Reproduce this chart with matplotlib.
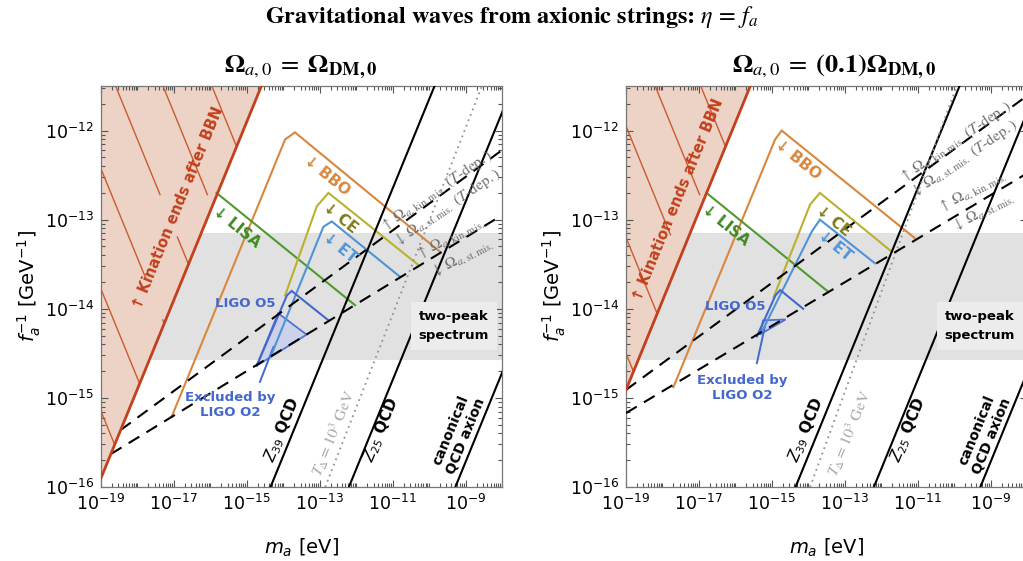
import numpy as np
import matplotlib
matplotlib.use("Agg")
import matplotlib.pyplot as plt
from matplotlib.ticker import FixedLocator, FuncFormatter, NullFormatter
from matplotlib.patches import Polygon

# ---------------- data (log10 values) ----------------
XLIM = (-19.0, -8.0)          # log10(m_a / eV)
YLIM = (-16.0, -11.5)         # log10(f_a^-1 / GeV^-1)
BAND = (-14.57, -13.15)       # "two-peak spectrum" band
X_LABELED = [-19, -17, -15, -13, -11, -9]
Y_LABELED = [-16, -15, -14, -13, -12]

# QCD-axion lines (same in both panels)
Z39_x = [-14.45, -9.75];  Z39_y = [-16.1, -11.4]
Z25_x = [-12.3, -7.6];    Z25_y = [-16.1, -11.4]
CAN_x = [-9.38, -7.9];    CAN_y = [-16.1, -14.62]

# ---- left panel: Omega_a0 = Omega_DM0 ----
L_kin_x = [-19.0, -14.6];   L_kin_y = [-15.9, -11.5]
L_hatch_c = [-27.46, -28.8, -30.1, -31.43, -32.78, -34.15]
L_TD_x = [-12.85, -8.55];   L_TD_y = [-16.0, -11.5]
L_dlow_x = [-18.73, -8.0];  L_dlow_y = [-15.63, -12.95]
L_dup_x = [-18.46, -8.0];   L_dup_y = [-15.36, -12.22]
L_bbo_x = [-17.06, -13.95, -13.68, -9.70];  L_bbo_y = [-15.21, -12.10, -12.02, -13.36]
L_lisa_x = [-15.83, -12.03];                L_lisa_y = [-12.70, -13.96]
L_ce_x = [-13.95, -13.08, -12.76, -10.29];  L_ce_y = [-13.85, -12.85, -12.70, -13.51]
L_et_x = [-14.35, -12.90, -12.67, -10.80];  L_et_y = [-14.54, -13.08, -13.02, -13.64]
L_o5_x = [-14.73, -13.90, -13.77, -12.76];  L_o5_y = [-14.64, -13.85, -13.80, -14.13]
L_o2_x = [-14.73, -14.14, -13.36];          L_o2_y = [-14.64, -14.05, -14.29]
L_ptr_x = [-14.64, -14.27];                 L_ptr_y = [-14.82, -14.43]

# ---- right panel: Omega_a0 = 0.1 Omega_DM0 ----
R_kin_x = [-19.0, -15.59];  R_kin_y = [-14.91, -11.5]
R_hatch_c = [-28.45, -29.7, -30.95, -32.2, -33.5]
R_TD_x = [-13.95, -9.93];   R_TD_y = [-16.0, -11.5]
R_dlow_x = [-19.0, -8.0];   R_dlow_y = [-15.17, -12.48]
R_dup_x = [-19.0, -8.0];    R_dup_y = [-14.91, -11.61]
R_bbo_x = [-17.70, -14.91, -14.73, -11.07]; R_bbo_y = [-14.88, -12.10, -12.00, -13.21]
R_lisa_x = [-16.79, -13.45];                R_lisa_y = [-12.70, -13.81]
R_ce_x = [-14.95, -13.95, -13.68, -11.71];  R_ce_y = [-13.87, -12.83, -12.70, -13.36]
R_et_x = [-15.30, -13.90, -13.68, -12.17];  R_et_y = [-14.28, -13.13, -13.00, -13.49]
R_o5_x = [-15.41, -14.90, -14.77, -14.14];  R_o5_y = [-14.31, -13.85, -13.79, -14.00]
R_o2_x = [-15.33, -15.24, -14.62];          R_o2_y = [-14.29, -14.13, -14.12]
R_ptr_x = [-15.41, -15.19];                 R_ptr_y = [-14.61, -14.20]

# ---------------- styling ----------------
C_KIN = "#c2401c"; C_KINFILL = "#edd2c6"; C_HATCH = "#cb5a32"
C_BBO = "#d9873c"; C_CE = "#b9b12f"; C_CE_T = "#7f7c18"
C_ET = "#4f93d6"; C_LISA = "#4f9a2e"; C_LISA_T = "#3f8a22"
C_LIGO = "#4467cc"; C_O2FILL = "#c9d1ec"
C_OM = "#6d6d6d"; C_TD = "#a8a8a8"

W, H = 1023, 561
fig = plt.figure(figsize=(W / 100, H / 100), dpi=100)


def P(v):
    return 10.0 ** np.asarray(v, dtype=float)


def minor_ticks(lo, hi):
    out = []
    for e in range(int(np.floor(lo)), int(np.ceil(hi)) + 1):
        for s in range(2, 10):
            v = np.log10(s) + e
            if lo < v < hi:
                out.append(10.0 ** v)
    return out


def make_axes(left_px):
    ax = fig.add_axes([left_px / W, (H - 487) / H, 401 / W, 401 / H])
    ax.set_xscale("log"); ax.set_yscale("log")
    ax.set_xlim(P(XLIM[0]), P(XLIM[1])); ax.set_ylim(P(YLIM[0]), P(YLIM[1]))
    ax.xaxis.set_major_locator(FixedLocator(P(X_LABELED)))
    ax.xaxis.set_minor_locator(FixedLocator(
        list(P([e for e in range(-19, -7) if e not in X_LABELED])) + minor_ticks(*XLIM)))
    ax.yaxis.set_major_locator(FixedLocator(P(Y_LABELED)))
    ax.yaxis.set_minor_locator(FixedLocator(minor_ticks(*YLIM)))

    def fmt(v, p):
        return r"$10^{%d}$" % int(round(np.log10(v)))

    ax.xaxis.set_major_formatter(FuncFormatter(fmt))
    ax.yaxis.set_major_formatter(FuncFormatter(fmt))
    ax.xaxis.set_minor_formatter(NullFormatter())
    ax.yaxis.set_minor_formatter(NullFormatter())
    ax.tick_params(which="both", direction="in", top=True, right=True, color="#555555",
                   labelsize=12.5, width=0.8)
    ax.tick_params(which="major", length=5, pad=5)
    ax.tick_params(which="minor", length=2.8)
    for s in ax.spines.values():
        s.set_color("#777777"); s.set_linewidth(0.9)
    ax.set_xlabel(r"$m_a$ [eV]", fontsize=14, labelpad=16)
    ax.set_ylabel(r"$f_a^{-1}$ [GeV$^{-1}$]", fontsize=14, labelpad=1)
    return ax


def panel(ax, d, lab):
    ax.axhspan(P(BAND[0]), P(BAND[1]), color="#e1e1e1", lw=0, zorder=0)
    # kination-excluded region
    kx, ky = d["kin"]
    poly = Polygon(np.c_[P([XLIM[0] - 1] + list(kx) + [XLIM[0] - 1]),
                         P([ky[0] - 1] + list(ky) + [YLIM[1] + 1])],
                   closed=True, facecolor=C_KINFILL, edgecolor="none", zorder=1)
    ax.add_patch(poly)
    for c in d["hatch"]:
        x0 = max(XLIM[0], c - YLIM[1])
        hl, = ax.plot(P([x0, x0 + 6]), P([c - x0, c - x0 - 6]), color=C_HATCH, lw=1.0,
                      dashes=(85, 32), zorder=2)
        hl.set_clip_path(poly)
    ax.plot(P(kx), P(ky), color=C_KIN, lw=2.0, zorder=6)

    # QCD lines
    for xs, ys in [(Z39_x, Z39_y), (Z25_x, Z25_y), (CAN_x, CAN_y)]:
        ax.plot(P(xs), P(ys), color="black", lw=1.5, zorder=5)
    ax.plot(P(d["TD"][0]), P(d["TD"][1]), color="#939393", lw=1.3, ls=(0, (1, 2.2)), zorder=5)

    # dashed relic-abundance lines
    for key in ("dlow", "dup"):
        ax.plot(P(d[key][0]), P(d[key][1]), color="black", lw=1.5, dashes=(6, 4), zorder=5)

    # LIGO O2 excluded region
    ax.add_patch(Polygon(np.c_[P(d["o2"][0]), P(d["o2"][1])], closed=True,
                         facecolor=C_O2FILL, edgecolor=C_LIGO, lw=1.3, alpha=0.9, zorder=3))
    ax.plot(P(d["ptr"][0]), P(d["ptr"][1]), color=C_LIGO, lw=1.4, zorder=4)

    # detector curves
    for key, col in [("bbo", C_BBO), ("lisa", C_LISA), ("ce", C_CE), ("et", C_ET), ("o5", C_LIGO)]:
        ax.plot(P(d[key][0]), P(d[key][1]), color=col, lw=1.5, zorder=4, solid_joinstyle="miter")

    # labels
    bold = dict(fontweight="bold", ha="center", va="center", zorder=8)
    def T(key, s, col, rot, fs=9.5, **kw):
        x, y = lab[key]
        ax.text(P(x), P(y), s, color=col, rotation=rot, fontsize=fs,
                rotation_mode="anchor", **bold, **kw)

    T("kin", "↑ Kination ends after BBN", C_KIN, 67.7, 10.5)
    T("bbo", "↓ BBO", C_BBO, -39, 11)
    T("lisa", "↓ LISA", C_LISA_T, -39, 11)
    T("ce", "↓ CE", C_CE_T, -39, 11)
    T("et", "↓ ET", C_ET, -39, 11)
    T("o5", "LIGO O5", C_LIGO, 0, 9.5)
    T("o2", "Excluded by\nLIGO O2", C_LIGO, 0, 9.5)
    T("z39", r"$\mathit{Z}_{39}$ QCD", "black", 67.7, 11)
    T("z25", r"$\mathit{Z}_{25}$ QCD", "black", 67.7, 11)
    T("can", "canonical\nQCD axion", "black", 67.7, 10)
    x, y = lab["two"]
    ax.text(P(x), P(y), "two-peak\nspectrum", fontsize=9.5, fontweight="bold", ha="center",
            va="center", linespacing=1.6, zorder=8,
            bbox=dict(boxstyle="square,pad=0.6", facecolor="#ececec", edgecolor="none"))
    serif = dict(ha="center", va="center", rotation_mode="anchor", math_fontfamily="stix",
                 fontfamily="STIXGeneral", zorder=8)
    x, y = lab["td"]
    ax.text(P(x), P(y), r"$T_\Delta = 10^3\ \mathrm{GeV}$", color=C_TD, rotation=67.7,
            fontsize=11.5, **serif)
    for key, s, rot in [("om1", r"$\uparrow\ \Omega_{a,\mathrm{kin.mis.}}\ (T\mathrm{\text{-}dep.})$", 34),
                        ("om2", r"$\downarrow\ \Omega_{a,\mathrm{st.mis.}}\ (T\mathrm{\text{-}dep.})$", 34),
                        ("om3", r"$\uparrow\ \Omega_{a,\mathrm{kin.mis.}}$", 27),
                        ("om4", r"$\downarrow\ \Omega_{a,\mathrm{st.mis.}}$", 27)]:
        x, y = lab[key]
        ax.text(P(x), P(y), s, color=C_OM, rotation=rot, fontsize=11, **serif)


L = dict(kin=(L_kin_x, L_kin_y), hatch=L_hatch_c, TD=(L_TD_x, L_TD_y),
         dlow=(L_dlow_x, L_dlow_y), dup=(L_dup_x, L_dup_y), bbo=(L_bbo_x, L_bbo_y),
         lisa=(L_lisa_x, L_lisa_y), ce=(L_ce_x, L_ce_y), et=(L_et_x, L_et_y),
         o5=(L_o5_x, L_o5_y), o2=(L_o2_x, L_o2_y), ptr=(L_ptr_x, L_ptr_y))
R = dict(kin=(R_kin_x, R_kin_y), hatch=R_hatch_c, TD=(R_TD_x, R_TD_y),
         dlow=(R_dlow_x, R_dlow_y), dup=(R_dup_x, R_dup_y), bbo=(R_bbo_x, R_bbo_y),
         lisa=(R_lisa_x, R_lisa_y), ce=(R_ce_x, R_ce_y), et=(R_et_x, R_et_y),
         o5=(R_o5_x, R_o5_y), o2=(R_o2_x, R_o2_y), ptr=(R_ptr_x, R_ptr_y))

L_lab = dict(kin=(-16.89, -12.87), bbo=(-12.80, -12.51), lisa=(-15.28, -13.08),
             ce=(-12.44, -12.98), et=(-12.44, -13.31), o5=(-15.05, -13.94),
             o2=(-15.46, -15.08), z39=(-14.04, -15.36), td=(-12.63, -15.40),
             z25=(-11.30, -15.36), can=(-9.20, -15.40), om1=(-9.78, -12.67),
             om2=(-9.51, -12.86), om3=(-9.43, -13.21), om4=(-9.10, -13.43),
             two=(-9.32, -14.19))
R_lab = dict(kin=(-17.57, -12.78), bbo=(-14.28, -12.33), lisa=(-16.28, -13.06),
             ce=(-13.32, -13.01), et=(-13.27, -13.29), o5=(-16.01, -13.97),
             o2=(-15.82, -14.89), z39=(-14.06, -15.36), td=(-12.85, -15.39),
             z25=(-11.26, -15.36), can=(-9.18, -15.40), om1=(-9.95, -12.12),
             om2=(-9.72, -12.31), om3=(-9.51, -12.69), om4=(-9.20, -12.92),
             two=(-9.29, -14.19))

ax1 = make_axes(101)
panel(ax1, L, L_lab)
ax2 = make_axes(626)
panel(ax2, R, R_lab)

fig.text(0.5, 1 - 17 / H, r"Gravitational waves from axionic strings: $\eta\,=\,f_a$",
         fontsize=17.5, fontweight="bold", fontfamily="STIXGeneral", math_fontfamily="stix",
         ha="center", va="center")
fig.text(301 / W, 1 - 67 / H, r"$\mathbf{\Omega}_{a,0}\;=\;\mathbf{\Omega}_{\mathbf{DM,0}}$",
         fontsize=19, math_fontfamily="stix", ha="center", va="center")
fig.text(834 / W, 1 - 67 / H, r"$\mathbf{\Omega}_{a,0}\;=\;\mathbf{(0.1)\Omega}_{\mathbf{DM,0}}$",
         fontsize=19, math_fontfamily="stix", ha="center", va="center")

fig.savefig("out.png", dpi=100)
